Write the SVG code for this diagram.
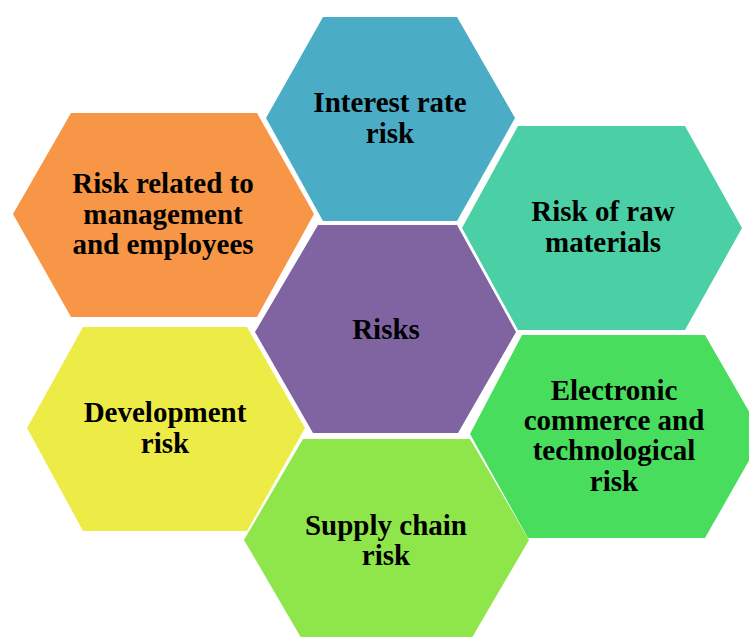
<svg xmlns="http://www.w3.org/2000/svg" width="749" height="637" viewBox="0 0 749 637">
<style>
.hex{stroke:none}
.t{font-family:"Liberation Serif","Times New Roman",serif;font-weight:bold;font-size:29px;fill:#000;text-anchor:middle}
</style>
<rect width="749" height="637" fill="#fff"/>
<g id="connectors"></g>
<g id="interest">
<polygon class="hex" fill="#4BACC6" points="323,17 457,17 515,118 457,221 323,221 266,118"/>
<text class="t" x="390" y="112">Interest rate</text>
<text class="t" x="390" y="143">risk</text>
</g>
<g id="management">
<polygon class="hex" fill="#F79646" points="71,113 257,113 314,214 257,317 71,317 13,214"/>
<text class="t" x="163" y="193">Risk related to</text>
<text class="t" x="163" y="224">management</text>
<text class="t" x="163" y="254">and employees</text>
</g>
<g id="risks">
<polygon class="hex" fill="#8064A2" points="318,225 457,225 516,332 458,433 313,433 255,332"/>
<text class="t" x="386" y="339">Risks</text>
</g>
<g id="raw">
<polygon class="hex" fill="#4BD0A5" points="518,126 685,126 742,228 685,330 518,330 462,228"/>
<text class="t" x="603" y="221">Risk of raw</text>
<text class="t" x="603" y="252">materials</text>
</g>
<g id="development">
<polygon class="hex" fill="#EDEC47" points="83,327 247,327 305,428 247,531 83,531 27,428"/>
<text class="t" x="165" y="422">Development</text>
<text class="t" x="165" y="453">risk</text>
</g>
<g id="electronic">
<polygon class="hex" fill="#48DD5C" points="522,335 705,335 763,436 705,538 528,538 470,434"/>
<text class="t" x="614" y="400">Electronic</text>
<text class="t" x="614" y="430">commerce and</text>
<text class="t" x="614" y="460">technological</text>
<text class="t" x="614" y="491">risk</text>
</g>
<g id="supply">
<polygon class="hex" fill="#8FE64A" points="303,439 470,439 529,540 470,641 303,641 244,540"/>
<text class="t" x="386" y="535">Supply chain</text>
<text class="t" x="386" y="565">risk</text>
</g>
</svg>
